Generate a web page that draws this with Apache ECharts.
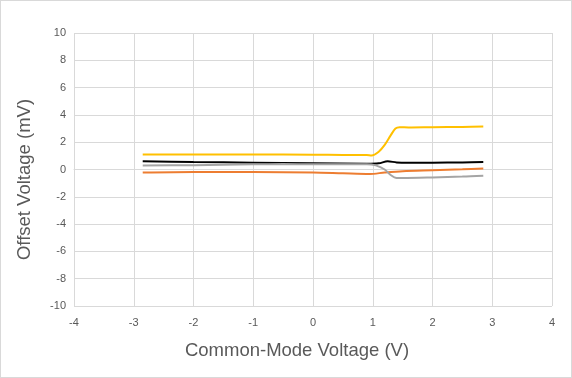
<!DOCTYPE html>
<html><head><meta charset="utf-8">
<script src="https://cdn.jsdelivr.net/npm/echarts@6/dist/echarts.min.js"></script>
<style>html,body{margin:0;padding:0;background:#fff}#c{width:570px;height:376px;border:1px solid #d9d9d9}</style>
</head><body><div id="c"></div>
<script>
const xTicks = [-4,-3,-2,-1,0,1,2,3,4];
const yTicks = [-10,-8,-6,-4,-2,0,2,4,6,8,10];
const yellowX = [-2.85,-2,-1,0,0.5,0.9,0.98,1.1,1.2,1.3,1.38,1.45,1.6,2,2.5,2.85];
const yellowY = [1.1,1.1,1.1,1.08,1.07,1.06,1.02,1.3,1.8,2.5,3.0,3.1,3.08,3.1,3.12,3.15];
const blackX = [-2.85,-2,-1,0,0.9,1.1,1.25,1.4,1.6,2,2.5,2.85];
const blackY = [0.6,0.55,0.5,0.45,0.42,0.45,0.6,0.52,0.5,0.5,0.52,0.55];
const grayX = [-2.85,-2,-1,-0.5,0,0.9,1.05,1.2,1.3,1.4,1.5,2,2.5,2.85];
const grayY = [0.3,0.32,0.38,0.4,0.38,0.38,0.3,0.0,-0.4,-0.62,-0.62,-0.58,-0.52,-0.45];
const orangeX = [-2.85,-2,-1,0,0.5,0.95,1.2,1.5,2,2.5,2.85];
const orangeY = [-0.22,-0.18,-0.18,-0.22,-0.28,-0.33,-0.22,-0.12,-0.05,0.02,0.08];
const zip = (a,b)=>a.map((v,i)=>[v,b[i]]);
const mk = (name,xs,ys,color)=>({name,type:'line',data:zip(xs,ys),smooth:0.3,symbol:'none',lineStyle:{color,width:2},itemStyle:{color}});
const chart = echarts.init(document.getElementById('c'));
chart.setOption({
  animation:false,
  grid:{left:73,right:19,top:32,bottom:71,containLabel:false},
  xAxis:{type:'value',min:-4,max:4,interval:1,
    name:'Common-Mode Voltage (V)',nameLocation:'middle',nameGap:35,
    nameTextStyle:{fontFamily:'Liberation Sans',fontSize:18.5,color:'#595959',padding:[0,32,0,0]},
    axisLine:{show:true,lineStyle:{color:'#d9d9d9'}},axisTick:{show:false},
    axisLabel:{fontFamily:'Liberation Sans',fontSize:11,color:'#595959',margin:11,
      formatter:v=>xTicks.includes(v)?String(v):''},
    splitLine:{show:true,lineStyle:{color:'#d9d9d9'}}},
  yAxis:{type:'value',min:-10,max:10,interval:2,
    name:'Offset Voltage (mV)',nameLocation:'middle',nameGap:40,
    nameTextStyle:{fontFamily:'Liberation Sans',fontSize:18.5,color:'#595959',padding:[0,20,0,0]},
    axisLine:{show:false},axisTick:{show:false},
    axisLabel:{fontFamily:'Liberation Sans',fontSize:11,color:'#595959',margin:8,
      formatter:v=>yTicks.includes(v)?String(v):''},
    splitLine:{show:true,lineStyle:{color:'#d9d9d9'}}},
  series:[
    mk('Yellow',yellowX,yellowY,'#FFC000'),
    mk('Black',blackX,blackY,'#000000'),
    mk('Orange',orangeX,orangeY,'#ED7D31'),
    mk('Gray',grayX,grayY,'#A5A5A5')
  ]
});
</script></body></html>
